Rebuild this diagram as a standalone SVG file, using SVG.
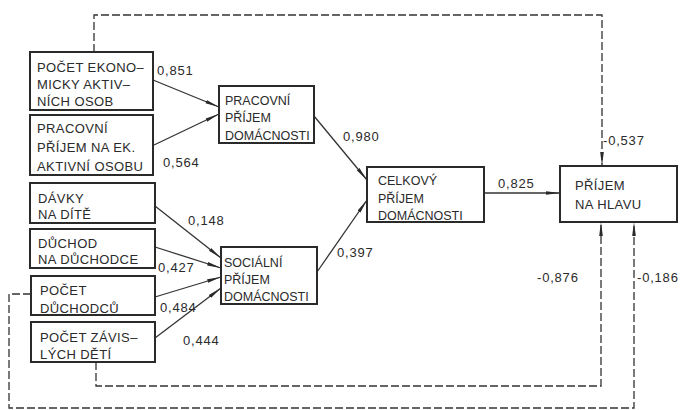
<svg xmlns="http://www.w3.org/2000/svg" width="683" height="410" viewBox="0 0 683 410">
<style>
.box{fill:none;stroke:#2a2a2a;stroke-width:2}
.t{font-family:"Liberation Sans","DejaVu Sans",sans-serif;font-size:13px;fill:#2a2a2a;letter-spacing:0.4px}
.ts{font-family:"Liberation Sans","DejaVu Sans",sans-serif;font-size:12.5px;fill:#2a2a2a;letter-spacing:0px}
.lb{font-family:"Liberation Sans","DejaVu Sans",sans-serif;font-size:13px;fill:#2a2a2a;letter-spacing:0.8px}
.c{fill:none;stroke:#333;stroke-width:1.3;marker-end:url(#ah)}
.da{fill:none;stroke:#333;stroke-width:1.3;stroke-dasharray:8 3;marker-end:url(#ah)}
</style>
<defs>
<marker id="ah" viewBox="0 0 14 6" refX="14" refY="3" markerWidth="14" markerHeight="6" markerUnits="userSpaceOnUse" orient="auto">
<path d="M0,1.2 L14,3 L0,4.8 Z" fill="#2a2a2a"/>
</marker>
</defs>
<rect width="683" height="410" fill="#fff"/>
<g id="connectors">
<path class="c" d="M153,80 L219,107"/>
<path class="c" d="M154,145 L219,114"/>
<path class="c" d="M155,206 L221,258"/>
<path class="c" d="M155,247 L221,268"/>
<path class="c" d="M155,297 L221,277"/>
<path class="c" d="M155,338 L221,288"/>
<path class="c" d="M314,116 L367,180"/>
<path class="c" d="M317,272 L367,200"/>
<path class="c" d="M484,193 L560,193"/>
<path class="da" d="M94,52 L94,15 L602,15 L602,166"/>
<path class="da" d="M96,362 L96,386 L601,386 L601,222"/>
<path class="da" d="M31,294 L9,294 L9,408 L634,408 L634,222"/>
</g>
<g id="n1"><rect class="box" x="30" y="52" width="123" height="58"/>
<text class="t"><tspan x="37" y="72">POČET EKONO–</tspan><tspan x="37" y="89">MICKY AKTIV–</tspan><tspan x="37" y="106">NÍCH OSOB</tspan></text></g>
<g id="n2"><rect class="box" x="30" y="115" width="123" height="60"/>
<text class="t"><tspan x="37" y="133">PRACOVNÍ</tspan><tspan x="37" y="152">PŘÍJEM NA EK.</tspan><tspan x="37" y="171">AKTIVNÍ OSOBU</tspan></text></g>
<g id="n3"><rect class="box" x="30" y="183" width="125" height="40"/>
<text class="t"><tspan x="38" y="203">DÁVKY</tspan><tspan x="38" y="219">NA DÍTĚ</tspan></text></g>
<g id="n4"><rect class="box" x="30" y="229" width="125" height="39"/>
<text class="t"><tspan x="38" y="248">DŮCHOD</tspan><tspan x="38" y="264">NA DŮCHODCE</tspan></text></g>
<g id="n5"><rect class="box" x="31" y="276" width="124" height="39"/>
<text class="t"><tspan x="40" y="295">POČET</tspan><tspan x="40" y="313">DŮCHODCŮ</tspan></text></g>
<g id="n6"><rect class="box" x="31" y="322" width="124" height="40"/>
<text class="t"><tspan x="40" y="342">POČET ZÁVIS–</tspan><tspan x="40" y="359">LÝCH DĚTÍ</tspan></text></g>
<g id="n7"><rect class="box" x="219" y="86" width="95" height="57"/>
<text class="ts"><tspan x="225" y="105">PRACOVNÍ</tspan><tspan x="225" y="122">PŘÍJEM</tspan><tspan x="225" y="140">DOMÁCNOSTI</tspan></text></g>
<g id="n8"><rect class="box" x="221" y="247" width="96" height="57"/>
<text class="ts"><tspan x="224" y="267">SOCIÁLNÍ</tspan><tspan x="224" y="284">PŘÍJEM</tspan><tspan x="224" y="301">DOMÁCNOSTI</tspan></text></g>
<g id="n9"><rect class="box" x="367" y="167" width="117" height="55"/>
<text class="ts"><tspan x="378" y="185">CELKOVÝ</tspan><tspan x="378" y="203">PŘÍJEM</tspan><tspan x="378" y="220">DOMÁCNOSTI</tspan></text></g>
<g id="n10"><rect class="box" x="560" y="166" width="117" height="56"/>
<text class="t"><tspan x="575" y="190">PŘÍJEM</tspan><tspan x="575" y="209">NA HLAVU</tspan></text></g>
<g id="labels">
<text class="lb" x="157" y="75">0,851</text>
<text class="lb" x="163" y="167">0,564</text>
<text class="lb" x="188" y="225">0,148</text>
<text class="lb" x="158" y="272">0,427</text>
<text class="lb" x="160" y="312">0,484</text>
<text class="lb" x="183" y="345">0,444</text>
<text class="lb" x="343" y="141">0,980</text>
<text class="lb" x="337" y="257">0,397</text>
<text class="lb" x="498" y="188">0,825</text>
<text class="lb" x="603" y="145">-0,537</text>
<text class="lb" x="537" y="282">-0,876</text>
<text class="lb" x="637" y="282">-0,186</text>
</g>
</svg>
